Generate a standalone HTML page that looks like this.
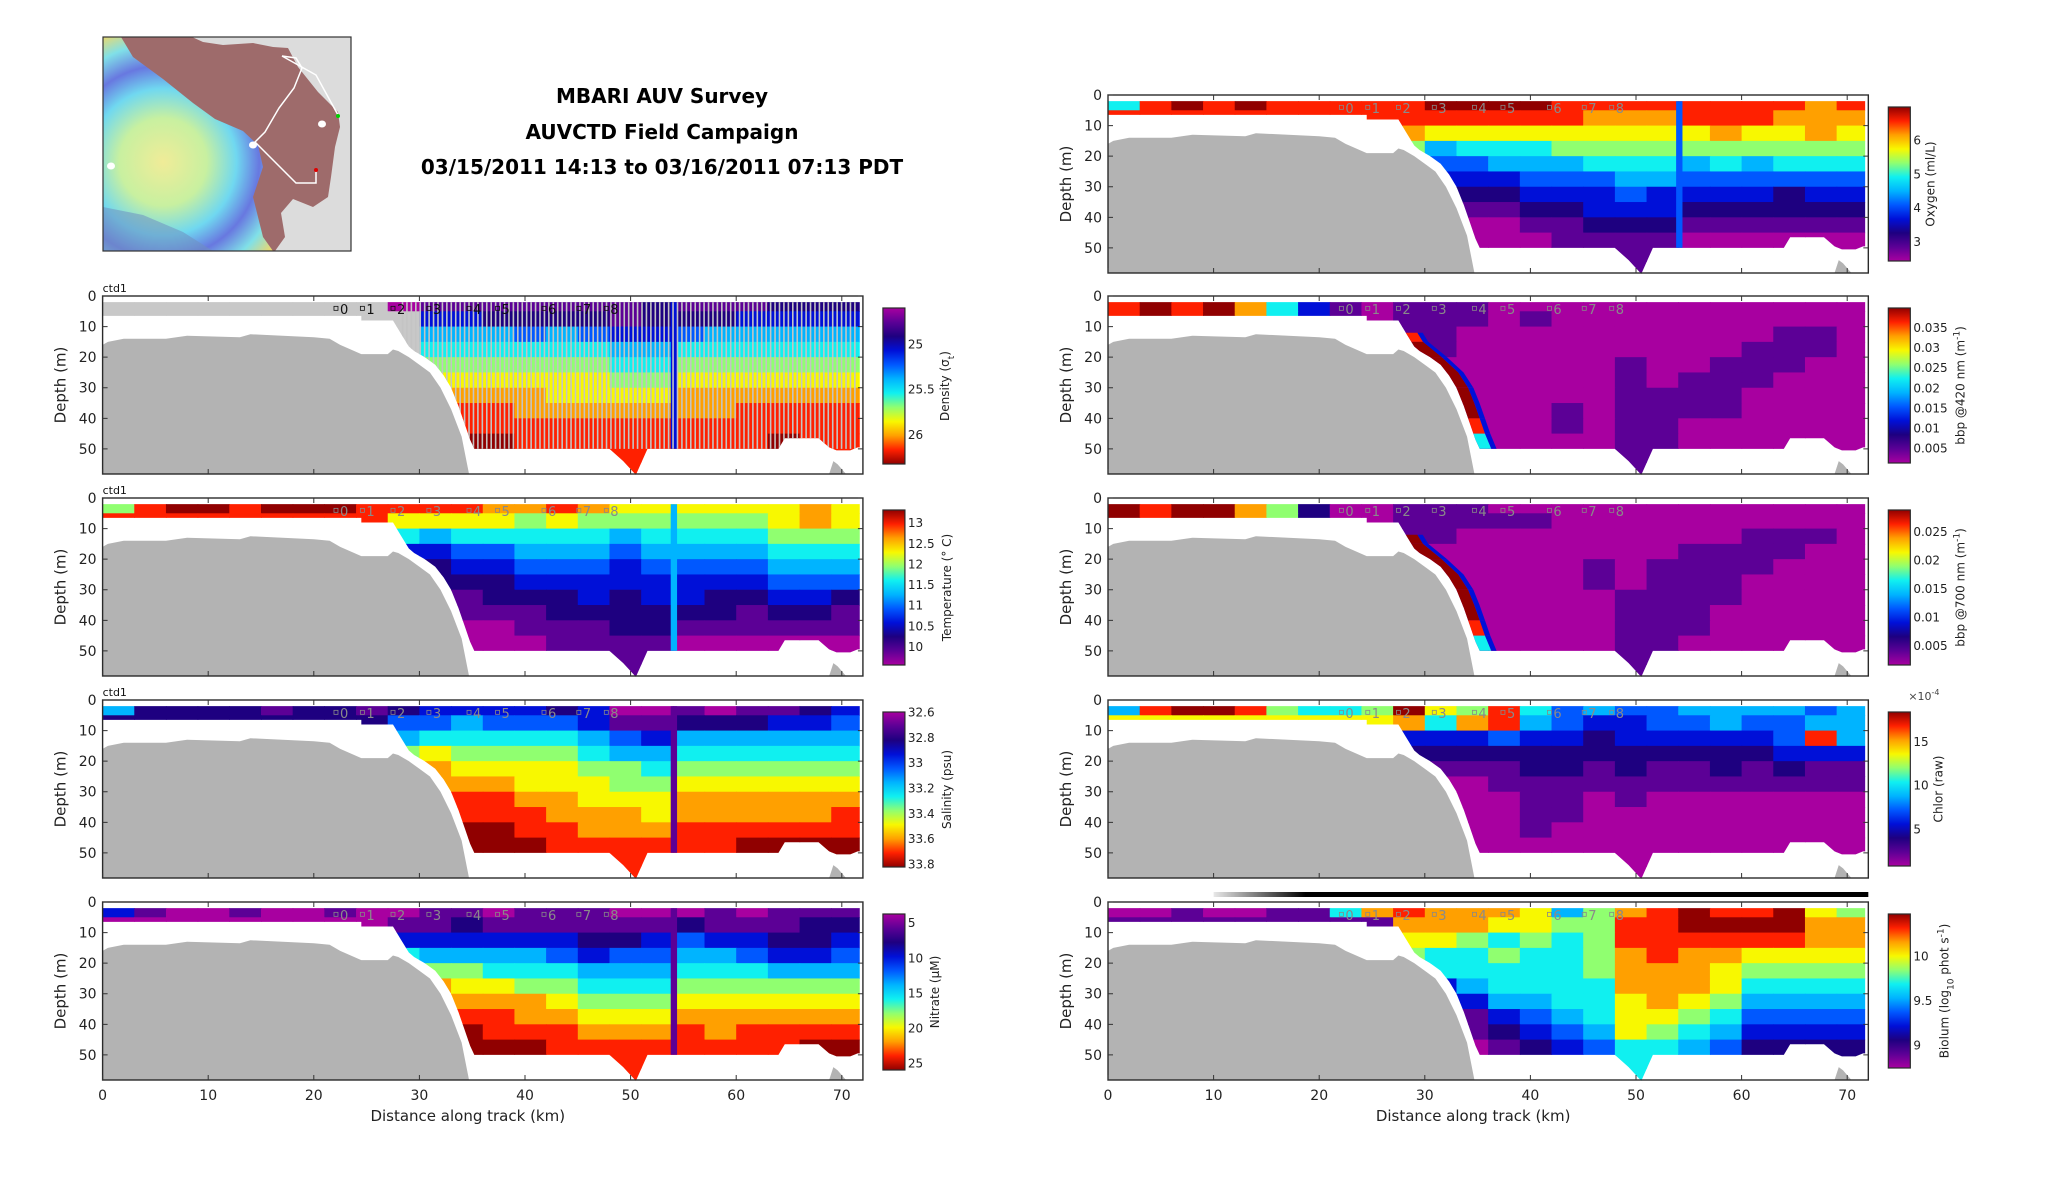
<!DOCTYPE html>
<html><head><meta charset="utf-8"><title>MBARI AUV Survey</title>
<style>
html,body{margin:0;padding:0;background:#fff;}
#wrap{position:relative;width:2052px;height:1188px;overflow:hidden;background:#fff;}
svg text{font-family:"DejaVu Sans","Liberation Sans",sans-serif;}
</style></head>
<body>
<div id="wrap">
<svg id="fig" width="2052" height="1188" viewBox="0 0 2052 1188" xmlns="http://www.w3.org/2000/svg">
  <defs>
    <radialGradient id="bathyGrad" cx="60" cy="125" r="175" gradientUnits="userSpaceOnUse">
      <stop offset="0" stop-color="#f0ec98"/>
      <stop offset="0.25" stop-color="#c8f0a0"/>
      <stop offset="0.42" stop-color="#70d8f0"/>
      <stop offset="0.55" stop-color="#6878e0"/>
      <stop offset="0.68" stop-color="#80e0e8"/>
      <stop offset="0.8" stop-color="#f0d868"/>
      <stop offset="0.92" stop-color="#f07060"/>
      <stop offset="1" stop-color="#b06868"/>
    </radialGradient>
  </defs>
  <g id="map" transform="translate(103,37)">
    <rect x="0" y="0" width="248" height="214" fill="#9e6b6b"/>
    <polygon points="0,0 18,0 30,20 60,42 90,66 112,82 140,94 155,108 160,130 150,160 160,200 170,214 0,214" fill="url(#bathyGrad)"/>
    <polygon points="0,170 40,178 80,195 110,214 0,214" fill="#7090c0" opacity="0.55"/>
    <polygon points="89,0 248,0 248,214 172,214 182,200 178,176 190,162 210,170 225,160 228,140 232,110 237,90 235,75 215,55 195,30 185,11 170,10 150,6 120,8 100,5" fill="#dcdcdc"/>
    <polyline points="179,19 193,21 199,31 191,51 176,71 162,95 152,105 193,146 213,146 213,133" fill="none" stroke="#fff" stroke-width="1.5"/>
    <polyline points="179,19 213,38 235,78" fill="none" stroke="#fff" stroke-width="1.5"/>
    <ellipse cx="150" cy="108" rx="4" ry="3.5" fill="#fff"/>
    <ellipse cx="219" cy="87" rx="4" ry="3.5" fill="#fff"/>
    <ellipse cx="8" cy="129" rx="4" ry="3.5" fill="#fff"/>
    <circle cx="235" cy="79" r="2" fill="#00d000"/>
    <circle cx="213" cy="133" r="2" fill="#e00000"/>
    <rect x="0" y="0" width="248" height="214" fill="none" stroke="#333" stroke-width="1.2"/>
  </g>
  <g id="title" font-weight="bold" font-size="20" text-anchor="middle" fill="#000">
    <text x="662" y="103">MBARI AUV Survey</text>
    <text x="662" y="139">AUVCTD Field Campaign</text>
    <text x="662" y="174">03/15/2011 14:13 to 03/16/2011 07:13 PDT</text>
  </g>
</svg>
</div>
<script>
// ---- shared section data ----
const colKm = [0,3,6,9,12,15,18,21,24,27,30,33,36,39,42,45,48,51,54,57,60,63,66,69,72];
const rowDepths = [0,5,10,15,20,25,30,35,40,45,60];
const depthTicks = [0,10,20,30,40,50];
const distTicks = [0,10,20,30,40,50,60,70];
const dataBottomKm = [0,24.5,24.5,27.5,28.2,29,29.5,30.5,31.5,32.3,33,33.7,34.3,34.8,35.2,48,49.3,50.5,51.6,64,64.6,67.8,68.8,69.5,70.8,71.5,71.7,71.7];
const dataBottomM  = [6.5,6.5,8,8,12,16.5,18,20,22.5,26,30,36,42,47,50,50,54,58.5,50,50,46.5,46.5,49.5,50.5,50.5,49.5,49.5,2];
const seafloorKm = [0,0.5,2,6,8,13,14,20,21.5,22.5,23.5,24.5,27,27.5,28,29,30,31,32,33,34,34.7];
const seafloorM  = [16,15,14,14,13,13.5,12.5,13.5,14,16,17.5,19,19,17.5,18,20,22.5,25,30,37,46,58.4];
const bumpKm = [68.8,69.2,69.6,70.4];
const bumpM  = [58.4,54,55,58.4];
const stationKm = [22.1,24.6,27.5,30.9,34.7,37.4,41.8,45.1,47.7];
const stationNames = ['0','1','2','3','4','5','6','7','8'];

// colour levels (jet-like, magenta low -> dark red high)
const levelColors = ['#a800a0','#5c0096','#1e0080','#0010d8','#0058ff','#00b4ff','#10f0f0','#90ff70','#f8f800','#ffa000','#ff2000','#900000'];

// ---- per-panel contour level grids (rows = depth bins, cols = 3 km bins) ----
const densityLevels = [
[-1,-1,-1,-1,-1,-1,-1,-1,-1,0,1,1,1,1,1,1,1,2,1,1,1,2,2,2],
[-1,-1,-1,-1,-1,-1,-1,-1,-1,-1,3,3,2,2,2,2,1,2,2,2,3,3,3,3],
[-1,-1,-1,-1,-1,-1,-1,-1,-1,-1,5,5,5,4,5,4,3,3,4,5,5,5,5,5],
[-1,-1,-1,-1,-1,-1,-1,-1,-1,-1,6,6,6,6,6,6,5,5,6,6,6,6,6,6],
[7,7,7,7,7,7,7,7,7,7,7,7,7,7,7,7,6,6,7,7,7,7,7,7],
[8,8,8,8,8,8,8,8,8,8,8,8,8,8,8,8,7,7,8,8,8,8,8,8],
[9,9,9,9,9,9,9,9,9,9,9,9,9,9,8,8,8,8,9,9,9,9,9,9],
[10,10,10,10,10,10,10,10,10,10,10,10,10,9,9,9,9,9,9,9,10,10,10,10],
[10,10,10,10,10,10,10,10,10,10,10,10,10,10,10,10,10,10,10,10,10,10,10,10],
[11,11,11,11,11,11,11,11,11,11,11,11,11,10,10,10,10,10,10,10,10,11,10,10]];
const tempLevels = [
[7,10,11,11,10,11,11,11,10,10,10,10,9,9,10,9,8,8,8,8,8,8,9,8],
[10,10,10,10,10,10,10,10,10,8,8,8,8,7,8,7,7,7,7,7,7,8,9,8],
[10,10,10,10,10,10,10,10,10,6,5,6,6,6,6,6,5,6,6,6,6,7,7,7],
[10,10,10,10,10,10,10,10,10,3,3,4,4,5,5,5,4,5,5,5,5,6,6,6],
[3,3,3,3,3,3,3,3,3,3,2,3,3,4,4,4,3,4,4,4,4,5,5,5],
[2,2,2,2,2,2,2,2,2,2,2,2,2,3,3,3,3,3,3,3,3,4,4,4],
[1,1,1,1,1,1,1,1,1,1,1,1,2,2,2,3,2,3,3,2,2,3,3,2],
[1,1,1,1,1,1,1,1,1,1,1,1,1,1,2,2,2,2,2,2,1,2,2,1],
[0,0,0,0,0,0,0,0,0,0,0,0,0,1,1,1,2,2,1,1,1,1,1,1],
[0,0,0,0,0,0,0,0,0,0,0,0,0,0,1,1,1,1,0,0,0,0,0,0]];
const salinityLevels = [
[5,2,2,2,2,1,2,2,1,2,3,3,3,3,2,3,0,0,1,0,1,1,2,3],
[2,2,2,2,2,2,2,2,2,4,4,5,4,4,4,3,1,1,2,2,2,3,3,4],
[4,4,4,4,4,4,4,4,4,5,6,6,6,6,6,5,4,3,5,5,5,5,5,5],
[6,6,6,6,6,6,6,6,6,7,8,7,7,7,7,6,5,5,6,6,6,6,6,6],
[9,9,9,9,9,9,9,9,9,9,9,8,8,8,8,7,7,6,7,7,7,7,7,7],
[9,9,9,9,9,9,9,9,9,9,9,9,9,8,8,8,7,7,8,8,8,8,8,8],
[10,10,10,10,10,10,10,10,10,10,10,10,10,9,9,8,8,8,9,9,9,9,9,9],
[10,10,10,10,10,10,10,10,10,10,10,10,10,10,9,9,9,8,9,9,9,9,9,10],
[11,11,11,11,11,11,11,11,11,11,11,11,11,10,10,9,9,9,10,10,10,10,10,10],
[11,11,11,11,11,11,11,11,11,11,11,11,11,11,10,10,10,10,10,10,11,11,11,11]];
const nitrateLevels = [
[3,1,0,0,1,0,0,1,0,0,1,1,0,1,1,1,0,0,0,1,0,1,1,1],
[0,0,0,0,0,0,0,0,0,1,1,2,1,1,1,1,1,1,2,1,1,1,2,2],
[2,2,2,2,2,2,2,2,2,3,3,3,3,3,3,2,2,3,4,3,3,2,2,3],
[4,4,4,4,4,4,4,4,4,6,5,5,5,5,4,3,4,4,5,5,4,3,3,4],
[7,7,7,7,7,7,7,7,7,7,7,7,6,6,6,5,5,5,6,6,6,5,5,5],
[9,9,9,9,9,9,9,9,9,9,9,8,8,7,7,6,6,6,7,7,7,7,7,7],
[9,9,9,9,9,9,9,9,9,9,9,9,9,9,8,7,7,7,8,8,8,8,8,8],
[10,10,10,10,10,10,10,10,10,10,10,10,10,9,9,8,8,8,9,9,9,9,9,9],
[11,11,11,11,11,11,11,11,11,11,11,11,10,10,10,9,9,9,10,9,10,10,10,10],
[11,11,11,11,11,11,11,11,11,11,11,11,11,11,10,10,10,10,10,10,10,10,11,11]];
const oxygenLevels = [
[6,10,11,10,11,10,10,10,10,10,11,11,11,11,10,10,10,10,10,10,10,10,9,10],
[10,10,10,10,10,10,10,10,10,10,10,10,10,10,10,9,9,9,10,10,10,9,9,9],
[9,9,9,9,9,9,9,9,9,9,8,8,8,8,8,8,8,8,8,9,8,8,9,8],
[7,7,7,7,7,7,7,7,7,7,5,6,6,6,7,7,7,7,7,7,7,7,7,7],
[4,4,4,4,4,4,4,4,4,4,4,4,5,5,5,6,6,6,5,6,5,6,6,6],
[3,3,3,3,3,3,3,3,3,3,3,3,3,4,4,4,5,5,4,4,4,4,4,4],
[2,2,2,2,2,2,2,2,2,2,2,2,2,3,3,3,4,3,3,3,3,2,3,3],
[1,1,1,1,1,1,1,1,1,1,1,1,1,2,2,3,3,3,2,2,2,2,2,2],
[0,0,0,0,0,0,0,0,0,0,0,0,0,1,1,2,2,2,1,1,1,1,1,1],
[0,0,0,0,0,0,0,0,0,0,0,0,0,0,1,1,1,1,0,0,0,0,0,0]];
const bbp420Levels = [
[10,11,10,11,9,6,3,1,0,1,1,1,0,0,0,0,0,0,0,0,0,0,0,0],
[10,11,10,11,9,6,3,1,0,1,1,1,0,1,0,0,0,0,0,0,0,0,0,0],
[0,0,0,0,0,0,0,0,0,1,1,0,0,0,0,0,0,0,0,0,0,1,1,0],
[0,0,0,0,0,0,0,0,0,0,1,0,0,0,0,0,0,0,0,0,1,1,1,0],
[0,0,0,0,0,0,0,0,0,0,0,0,0,0,0,0,1,0,0,1,1,1,0,0],
[0,0,0,0,0,0,0,0,0,0,0,0,0,0,0,0,1,0,1,1,1,0,0,0],
[0,0,0,0,0,0,0,0,0,0,0,0,0,0,0,0,1,1,1,1,0,0,0,0],
[0,0,0,0,0,0,0,0,0,0,0,0,0,0,1,0,1,1,1,1,0,0,0,0],
[0,0,0,0,0,0,0,0,0,0,0,0,0,0,1,0,1,1,0,0,0,0,0,0],
[0,0,0,0,0,0,0,0,0,0,0,0,0,0,0,0,1,1,0,0,0,0,0,0]];
const bbp420Band = [-1,-1,10,11,11,11,11,11,10,6];
const bbp700Levels = [
[11,10,11,11,9,7,2,0,0,1,1,1,0,0,0,0,0,0,0,0,0,0,0,0],
[11,10,11,11,9,7,2,0,0,1,1,1,1,1,0,0,0,0,0,0,0,0,0,0],
[0,0,0,0,0,0,0,0,0,1,1,0,0,0,0,0,0,0,0,0,1,1,1,0],
[0,0,0,0,0,0,0,0,0,0,0,0,0,0,0,0,0,0,1,1,1,1,0,0],
[0,0,0,0,0,0,0,0,0,0,0,0,0,0,0,1,0,1,1,1,1,0,0,0],
[0,0,0,0,0,0,0,0,0,0,0,0,0,0,0,1,0,1,1,1,0,0,0,0],
[0,0,0,0,0,0,0,0,0,0,0,0,0,0,0,0,1,1,1,1,0,0,0,0],
[0,0,0,0,0,0,0,0,0,0,0,0,0,0,0,0,1,1,1,0,0,0,0,0],
[0,0,0,0,0,0,0,0,0,0,0,0,0,0,0,0,1,1,1,0,0,0,0,0],
[0,0,0,0,0,0,0,0,0,0,0,0,0,0,0,0,1,1,0,0,0,0,0,0]];
const bbp700Band = [-1,-1,11,11,11,11,11,11,10,6];
const chlorLevels = [
[5,10,11,11,10,7,6,6,7,11,8,7,10,6,4,5,4,4,5,5,5,5,4,5],
[8,8,8,8,8,8,8,8,8,9,6,9,10,5,4,3,3,4,4,5,4,4,5,5],
[3,3,3,3,3,3,3,3,3,3,3,3,4,3,3,2,3,3,3,3,3,4,10,5],
[2,2,2,2,2,2,2,2,2,2,2,2,2,2,2,2,2,2,2,2,2,3,3,3],
[1,1,1,1,1,1,1,1,1,1,1,1,1,2,2,1,2,1,1,2,1,2,1,1],
[0,0,0,0,0,0,0,0,0,0,0,0,1,1,1,1,1,1,1,1,1,1,1,1],
[0,0,0,0,0,0,0,0,0,0,0,0,0,1,1,0,1,0,0,0,0,0,0,0],
[0,0,0,0,0,0,0,0,0,0,0,0,0,1,1,0,0,0,0,0,0,0,0,0],
[0,0,0,0,0,0,0,0,0,0,0,0,0,1,0,0,0,0,0,0,0,0,0,0],
[0,0,0,0,0,0,0,0,0,0,0,0,0,0,0,0,0,0,0,0,0,0,0,0]];
const biolumLevels = [
[0,0,1,0,0,1,1,6,9,10,9,9,9,8,5,7,9,10,11,10,10,11,8,7],
[1,1,1,1,1,1,1,1,1,9,9,9,8,8,7,7,10,10,11,11,11,11,9,9],
[1,1,1,1,1,1,1,1,1,8,8,7,6,7,6,7,10,10,10,10,10,10,9,9],
[1,1,1,1,1,1,1,1,1,7,6,6,7,6,6,7,9,10,9,9,8,8,8,8],
[1,1,1,1,1,1,1,1,1,1,6,6,6,6,6,7,9,9,9,8,7,7,7,7],
[1,1,1,1,1,1,1,1,1,1,3,5,6,6,6,6,9,9,9,8,6,6,6,6],
[1,1,1,1,1,1,1,1,1,1,1,3,5,5,6,6,8,9,8,7,5,5,5,5],
[1,1,1,1,1,1,1,1,1,1,1,1,3,4,5,6,8,8,7,6,4,4,4,4],
[1,1,1,1,1,1,1,1,1,1,1,1,2,3,4,5,8,7,6,5,3,3,3,3],
[0,0,0,0,0,0,0,0,0,0,0,0,1,2,3,4,6,6,5,4,2,2,2,2]];

// colourbar ranges and tick labels
const densityTicks = [25,25.5,26];
const tempTicks = [10,10.5,11,11.5,12,12.5,13];
const salinityTicks = [32.6,32.8,33,33.2,33.4,33.6,33.8];
const nitrateTicks = [5,10,15,20,25];
const oxygenTicks = [3,4,5,6];
const bbp420Ticks = [0.005,0.01,0.015,0.02,0.025,0.03,0.035];
const bbp700Ticks = [0.005,0.01,0.015,0.02,0.025];
const chlorTicks = [5,10,15];
const biolumTicks = [9,9.5,10];
const stripeLevels = {density:3,temp:5,salinity:1,nitrate:1,oxygen:4};

const PXK = 10.56, PXM = 3.058, AXW = 72*PXK, AXH = 178;
const svg = document.getElementById('fig');
const NS = 'http://www.w3.org/2000/svg';
function mk(tag, parent){ const e = document.createElementNS(NS, tag); parent.appendChild(e); return e; }

const panels = [
 {key:'density', x0:102.6, top:296, lv:densityLevels, vmin:24.6, vmax:26.32, rev:true, ticks:densityTicks, label:['Density (σ','t',')'], ldx:44, ctd:true, dark:true, xlab:false, cbh:156},
 {key:'temp', x0:102.6, top:498, lv:tempLevels, vmin:9.56, vmax:13.32, rev:false, ticks:tempTicks, label:['Temperature (° C)'], ldx:46, ctd:true, xlab:false, cbh:155},
 {key:'salinity', x0:102.6, top:700, lv:salinityLevels, vmin:32.595, vmax:33.82, rev:true, ticks:salinityTicks, label:['Salinity (psu)'], ldx:46, ctd:true, xlab:false, cbh:155},
 {key:'nitrate', x0:102.6, top:902, lv:nitrateLevels, vmin:3.7, vmax:25.9, rev:true, ticks:nitrateTicks, label:['Nitrate (μM)'], ldx:34, xlab:true, cbh:156},
 {key:'oxygen', x0:1108, top:95, lv:oxygenLevels, vmin:2.43, vmax:7.0, rev:false, ticks:oxygenTicks, label:['Oxygen (ml/L)'], ldx:24, xlab:false, cbh:154},
 {key:'bbp420', x0:1108, top:296, lv:bbp420Levels, band:bbp420Band, vmin:0.0014, vmax:0.040, rev:false, ticks:bbp420Ticks, label:['bbp @420 nm (m','-1',')'], ldx:54, xlab:false, cbh:155},
 {key:'bbp700', x0:1108, top:498, lv:bbp700Levels, band:bbp700Band, vmin:0.00164, vmax:0.0289, rev:false, ticks:bbp700Ticks, label:['bbp @700 nm (m','-1',')'], ldx:54, xlab:false, cbh:155},
 {key:'chlor', x0:1108, top:700, lv:chlorLevels, vmin:0.84, vmax:18.4, rev:false, ticks:chlorTicks, label:['Chlor (raw)'], ldx:32, xlab:false, exp:true, cbh:154},
 {key:'biolum', x0:1108, top:902, lv:biolumLevels, vmin:8.75, vmax:10.48, rev:false, ticks:biolumTicks, label:['Biolum (log','10',' phot s','-1',')'], ldx:38, xlab:true, bar:true, cbh:154}
];

function slopeX(d){
  for(let i=4;i<15;i++){
    const d0=dataBottomM[i-1], d1=dataBottomM[i];
    if(d>=d0 && d<=d1){ return dataBottomKm[i-1]+(dataBottomKm[i]-dataBottomKm[i-1])*(d-d0)/(d1-d0); }
  }
  return d<12 ? 28.2 : 35.2;
}

panels.forEach(function(p, pi){
  const xs = km => p.x0 + km*PXK;
  const ys = m => p.top + m*PXM;
  const g = mk('g', svg);
  
  
  const cp = mk('clipPath', g);
  cp.setAttribute('id', 'clip'+pi);
  const poly = mk('polygon', cp);
  let pts = [xs(0)+','+ys(2)];
  for(let i=0;i<dataBottomKm.length;i++) pts.push(xs(dataBottomKm[i])+','+ys(dataBottomM[i]));
  poly.setAttribute('points', pts.join(' '));
  const dg = mk('g', g);
  dg.setAttribute('clip-path', 'url(#clip'+pi+')');
  
  
  for(let r=0;r<p.lv.length;r++){
    for(let c=0;c<p.lv[r].length;c++){
      const l = p.lv[r][c];
      const rc = mk('rect', dg);
      
      
      rc.setAttribute('x', xs(colKm[c]));
      rc.setAttribute('y', ys(rowDepths[r]));
      rc.setAttribute('width', (colKm[c+1]-colKm[c])*PXK+0.6);
      rc.setAttribute('height', (rowDepths[r+1]-rowDepths[r])*PXM+0.6);
      rc.setAttribute('fill', l<0 ? '#c8c8c8' : levelColors[l]);
    }
  }
  if(p.band){
    for(let r=0;r<p.band.length;r++){
      const l = p.band[r];
      if(l<0) continue;
      const d0 = Math.max(rowDepths[r],12), d1 = Math.min(rowDepths[r+1],50);
      const a = slopeX(d0), b = slopeX(d1);
      const bd = mk('polygon', dg);
      
      
      bd.setAttribute('points', [xs(a-0.3)+','+ys(d0), xs(a+1.1)+','+ys(d0), xs(b+1.1)+','+ys(d1), xs(b-0.3)+','+ys(d1)].join(' '));
      bd.setAttribute('fill', levelColors[l]);
      const ob = mk('polygon', dg);
      
      
      ob.setAttribute('points', [xs(a+1.1)+','+ys(d0), xs(a+1.6)+','+ys(d0), xs(b+1.6)+','+ys(d1), xs(b+1.1)+','+ys(d1)].join(' '));
      ob.setAttribute('fill', levelColors[3]);
    }
  }
  if(stripeLevels[p.key] !== undefined){
    const st = mk('rect', dg);
    
    
    st.setAttribute('x', xs(53.8)); st.setAttribute('y', ys(2));
    st.setAttribute('width', 0.6*PXK); st.setAttribute('height', 48*PXM);
    st.setAttribute('fill', levelColors[stripeLevels[p.key]]);
  }
  if(p.key === 'density'){
    for(let k=28.4;k<71.6;k+=0.42){
      const ln = mk('line', dg);
      
      
      ln.setAttribute('x1', xs(k)); ln.setAttribute('x2', xs(k));
      ln.setAttribute('y1', ys(2)); ln.setAttribute('y2', ys(50));
      ln.setAttribute('stroke', '#c4c4c4'); ln.setAttribute('stroke-width', '1.6');
    }
  }
  const sf = mk('polygon', g);
  
  
  let sp = [xs(0)+','+ys(58.2)];
  for(let i=0;i<seafloorKm.length;i++) sp.push(xs(seafloorKm[i])+','+ys(Math.min(seafloorM[i],58.2)));
  sp.push(xs(35.1)+','+ys(58.2));
  sf.setAttribute('points', sp.join(' '));
  sf.setAttribute('fill', '#b3b3b3');
  const bp = mk('polygon', g);
  
  
  bp.setAttribute('points', bumpKm.map((k,i)=>xs(k)+','+ys(Math.min(bumpM[i],58.2))).join(' '));
  bp.setAttribute('fill', '#b3b3b3');
  for(let i=0;i<stationKm.length;i++){
    const sq = mk('rect', g);
    
    
    sq.setAttribute('x', xs(stationKm[i])-2); sq.setAttribute('y', ys(4.2)-2.5);
    sq.setAttribute('width', 4); sq.setAttribute('height', 4);
    sq.setAttribute('fill', 'none'); sq.setAttribute('stroke', p.dark ? '#111' : '#888'); sq.setAttribute('stroke-width', '0.8');
    const st = mk('text', g);
    
    
    st.setAttribute('x', xs(stationKm[i])+4); st.setAttribute('y', ys(4.2)+5);
    st.setAttribute('font-size', '13'); st.setAttribute('fill', p.dark ? '#111' : '#8a8a8a');
    st.textContent = stationNames[i];
  }
  const fr = mk('rect', g);
  
  
  fr.setAttribute('x', p.x0); fr.setAttribute('y', p.top);
  fr.setAttribute('width', AXW); fr.setAttribute('height', AXH);
  fr.setAttribute('fill', 'none'); fr.setAttribute('stroke', '#2a2a2a'); fr.setAttribute('stroke-width', '1.4');
  depthTicks.forEach(function(t){
    const y = ys(t);
    const tk = mk('path', g);
    
    
    tk.setAttribute('d', 'M'+p.x0+' '+y+'h5M'+(p.x0+AXW)+' '+y+'h-5');
    tk.setAttribute('stroke', '#333'); tk.setAttribute('stroke-width', '1');
    const tl = mk('text', g);
    
    
    tl.setAttribute('x', p.x0-6); tl.setAttribute('y', y+5);
    tl.setAttribute('text-anchor', 'end'); tl.setAttribute('font-size', '14'); tl.setAttribute('fill', '#222');
    tl.textContent = t;
  });
  const yl = mk('text', g);
  
  
  yl.setAttribute('transform', 'translate('+(p.x0-37)+','+(p.top+AXH/2)+') rotate(-90)');
  yl.setAttribute('text-anchor', 'middle'); yl.setAttribute('font-size', '15'); yl.setAttribute('fill', '#222');
  yl.textContent = 'Depth (m)';
  distTicks.forEach(function(t){
    const x = xs(t);
    const tk = mk('path', g);
    
    
    tk.setAttribute('d', 'M'+x+' '+(p.top+AXH)+'v-5M'+x+' '+p.top+'v5');
    tk.setAttribute('stroke', '#333'); tk.setAttribute('stroke-width', '1');
    if(p.xlab){
      const tl = mk('text', g);
      
      
      tl.setAttribute('x', x); tl.setAttribute('y', p.top+AXH+20);
      tl.setAttribute('text-anchor', 'middle'); tl.setAttribute('font-size', '14'); tl.setAttribute('fill', '#222');
      tl.textContent = t;
    }
  });
  if(p.xlab){
    const xl = mk('text', g);
    
    
    xl.setAttribute('x', p.x0+AXW/2-15); xl.setAttribute('y', p.top+AXH+41);
    xl.setAttribute('text-anchor', 'middle'); xl.setAttribute('font-size', '15'); xl.setAttribute('fill', '#222');
    xl.textContent = 'Distance along track (km)';
  }
  if(p.ctd){
    const ct = mk('text', g);
    
    
    ct.setAttribute('x', p.x0); ct.setAttribute('y', p.top-4);
    ct.setAttribute('font-size', '11'); ct.setAttribute('fill', '#111');
    ct.textContent = 'ctd1';
  }
  if(p.bar){
    const gd = mk('linearGradient', g);
    gd.setAttribute('id', 'barGrad');
    gd.setAttribute('x1', '0'); gd.setAttribute('x2', '1'); gd.setAttribute('y1', '0'); gd.setAttribute('y2', '0');
    [['0','#e8e8e8'],['0.14','#000'],['1','#000']].forEach(function(s){ const o = mk('stop', gd); o.setAttribute('offset', s[0]); o.setAttribute('stop-color', s[1]); });
    const br = mk('rect', g);
    
    
    br.setAttribute('x', xs(10)); br.setAttribute('y', p.top-10);
    br.setAttribute('width', 62*PXK); br.setAttribute('height', 5);
    br.setAttribute('fill', 'url(#barGrad)');
  }
  // colourbar
  const cx = p.x0 + AXW + 20, cy = p.top + 12, cw = 22, ch = p.cbh;
  const lg = mk('linearGradient', g);
  lg.setAttribute('id', 'cb'+pi);
  lg.setAttribute('x1', '0'); lg.setAttribute('x2', '0'); lg.setAttribute('y1', '0'); lg.setAttribute('y2', '1');
  const n = levelColors.length;
  for(let i=0;i<n;i++){
    const o = mk('stop', lg);
    o.setAttribute('offset', i/(n-1));
    o.setAttribute('stop-color', p.rev ? levelColors[i] : levelColors[n-1-i]);
  }
  const cb = mk('rect', g);
  
  
  cb.setAttribute('x', cx); cb.setAttribute('y', cy); cb.setAttribute('width', cw); cb.setAttribute('height', ch);
  cb.setAttribute('fill', 'url(#cb'+pi+')'); cb.setAttribute('stroke', '#2a2a2a'); cb.setAttribute('stroke-width', '1.2');
  p.ticks.forEach(function(t){
    let f = (t - p.vmin)/(p.vmax - p.vmin);
    const y = p.rev ? cy + f*ch : cy + (1-f)*ch;
    const tl = mk('text', g);
    
    
    tl.setAttribute('x', cx+cw+3); tl.setAttribute('y', y+4);
    tl.setAttribute('font-size', '12'); tl.setAttribute('fill', '#222');
    tl.textContent = t;
  });
  if(p.exp){
    const ex = mk('text', g);
    
    
    ex.setAttribute('x', cx+20); ex.setAttribute('y', cy-12);
    ex.setAttribute('font-size', '11'); ex.setAttribute('fill', '#444');
    ex.textContent = '×10';
    const es = mk('tspan', ex);
    es.setAttribute('dy', '-5'); es.setAttribute('font-size', '8');
    es.textContent = '-4';
  }
  const cl = mk('text', g);
  
  
  cl.setAttribute('transform', 'translate('+(cx+cw+p.ldx)+','+(cy+ch/2)+') rotate(-90)');
  cl.setAttribute('text-anchor', 'middle'); cl.setAttribute('font-size', '12'); cl.setAttribute('fill', '#222');
  p.label.forEach(function(s, i){
    const ts = mk('tspan', cl);
    if(i % 2 === 1){
      const isSup = (p.key !== 'density') && !(p.key === 'biolum' && i === 1);
      ts.setAttribute('font-size', '9');
      ts.setAttribute('baseline-shift', isSup ? 'super' : 'sub');
    }
    ts.textContent = s;
  });
});
</script>
</body></html>
